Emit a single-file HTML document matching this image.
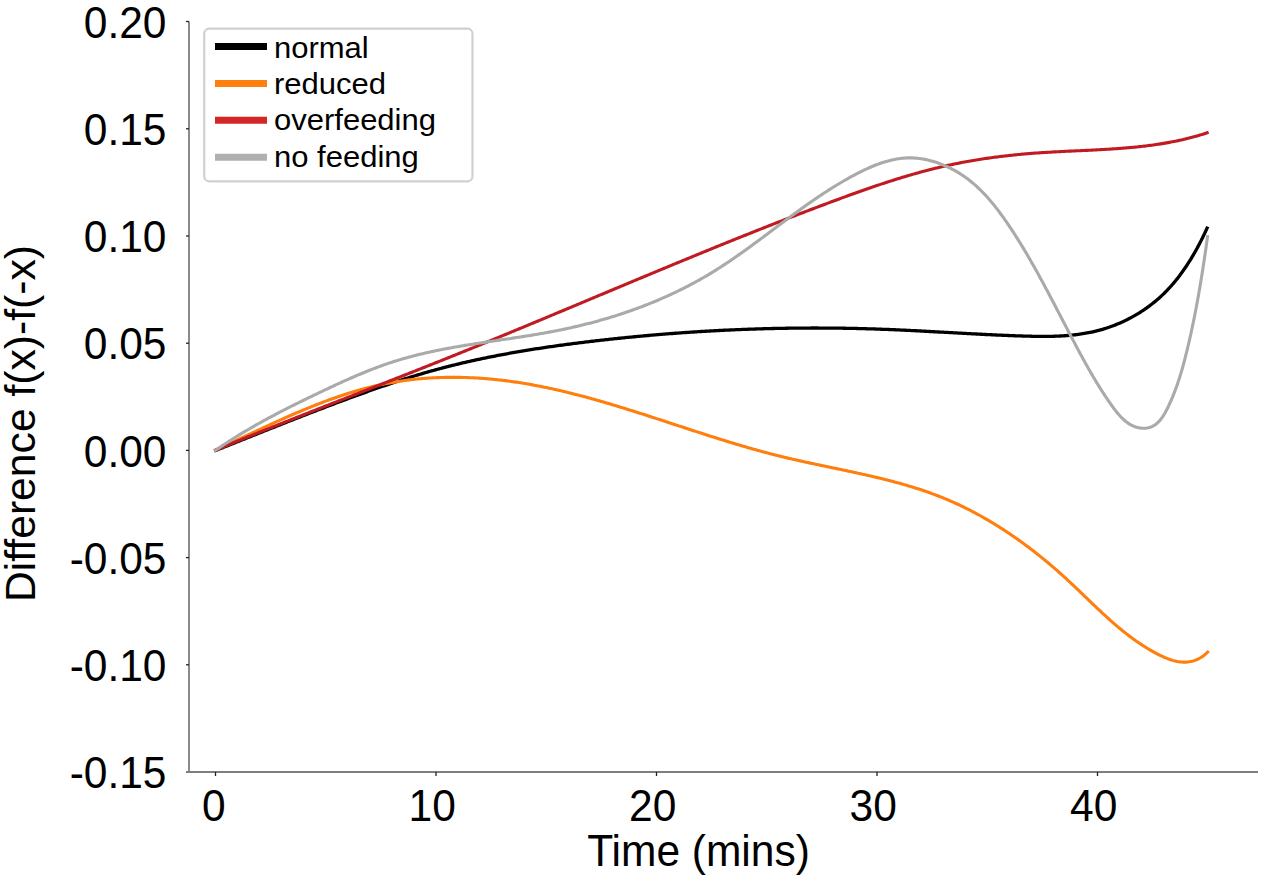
<!DOCTYPE html>
<html><head><meta charset="utf-8"><style>
html,body{margin:0;padding:0;background:#fff;}
svg{display:block;}
.t{font-family:"Liberation Sans",sans-serif;font-size:42.5px;fill:#000;}
.l{font-family:"Liberation Sans",sans-serif;font-size:31px;fill:#000;}
</style></head><body>
<svg width="1262" height="878" viewBox="0 0 1262 878">
<line x1="189" y1="21.5" x2="189" y2="772" stroke="#7e7e7e" stroke-width="1.8"/>
<line x1="186" y1="772" x2="1258" y2="772" stroke="#7e7e7e" stroke-width="1.8"/>
<text transform="translate(166.5,788.2) scale(1,1.05)" text-anchor="end" class="t">-0.15</text>
<line x1="186" y1="664.8" x2="189" y2="664.8" stroke="#222" stroke-width="1.3"/>
<text transform="translate(166.5,681.0) scale(1,1.05)" text-anchor="end" class="t">-0.10</text>
<line x1="186" y1="557.6" x2="189" y2="557.6" stroke="#222" stroke-width="1.3"/>
<text transform="translate(166.5,573.8) scale(1,1.05)" text-anchor="end" class="t">-0.05</text>
<line x1="186" y1="450.4" x2="189" y2="450.4" stroke="#222" stroke-width="1.3"/>
<text transform="translate(166.5,466.6) scale(1,1.05)" text-anchor="end" class="t">0.00</text>
<line x1="186" y1="343.2" x2="189" y2="343.2" stroke="#222" stroke-width="1.3"/>
<text transform="translate(166.5,359.4) scale(1,1.05)" text-anchor="end" class="t">0.05</text>
<line x1="186" y1="236.0" x2="189" y2="236.0" stroke="#222" stroke-width="1.3"/>
<text transform="translate(166.5,252.2) scale(1,1.05)" text-anchor="end" class="t">0.10</text>
<line x1="186" y1="128.8" x2="189" y2="128.8" stroke="#222" stroke-width="1.3"/>
<text transform="translate(166.5,145.0) scale(1,1.05)" text-anchor="end" class="t">0.15</text>
<line x1="186" y1="21.5" x2="189" y2="21.5" stroke="#222" stroke-width="1.3"/>
<text transform="translate(166.5,37.7) scale(1,1.05)" text-anchor="end" class="t">0.20</text>
<line x1="215.5" y1="772" x2="215.5" y2="776" stroke="#222" stroke-width="1.3"/>
<text transform="translate(213.8,820.9) scale(1,1.05)" text-anchor="middle" class="t">0</text>
<line x1="436.0" y1="772" x2="436.0" y2="776" stroke="#222" stroke-width="1.3"/>
<text transform="translate(432.2,820.9) scale(1,1.05)" text-anchor="middle" class="t">10</text>
<line x1="656.5" y1="772" x2="656.5" y2="776" stroke="#222" stroke-width="1.3"/>
<text transform="translate(652.7,820.9) scale(1,1.05)" text-anchor="middle" class="t">20</text>
<line x1="877.0" y1="772" x2="877.0" y2="776" stroke="#222" stroke-width="1.3"/>
<text transform="translate(873.2,820.9) scale(1,1.05)" text-anchor="middle" class="t">30</text>
<line x1="1097.5" y1="772" x2="1097.5" y2="776" stroke="#222" stroke-width="1.3"/>
<text transform="translate(1093.7,820.9) scale(1,1.05)" text-anchor="middle" class="t">40</text>
<text transform="translate(698.5,865.5) scale(1,1.05)" text-anchor="middle" class="t">Time (mins)</text>
<text transform="translate(34.7,423.5) rotate(-90) scale(1.004,1.01)" text-anchor="middle" class="t">Difference f(x)-f(-x)</text>
<path d="M214.29,450.98 L215.71,450.42 L217.12,449.86 L218.54,449.30 L219.95,448.73 L221.36,448.17 L222.78,447.61 L224.19,447.05 L225.60,446.49 L227.01,445.92 L228.42,445.36 L229.83,444.80 L231.24,444.24 L232.65,443.67 L234.06,443.11 L235.47,442.55 L236.88,441.99 L238.29,441.42 L239.70,440.86 L241.11,440.30 L242.52,439.74 L243.93,439.17 L245.33,438.61 L246.74,438.05 L248.15,437.49 L249.56,436.92 L250.97,436.36 L252.37,435.80 L253.78,435.24 L255.19,434.68 L256.59,434.12 L258.00,433.55 L259.41,432.99 L260.81,432.43 L262.22,431.87 L263.63,431.31 L265.03,430.75 L266.44,430.19 L267.85,429.63 L269.25,429.07 L270.66,428.51 L272.06,427.95 L273.47,427.39 L274.88,426.84 L276.28,426.28 L277.69,425.72 L279.10,425.16 L280.50,424.61 L281.91,424.05 L283.32,423.49 L284.72,422.94 L286.13,422.38 L287.54,421.83 L288.94,421.27 L290.35,420.72 L291.76,420.16 L293.16,419.61 L294.57,419.06 L295.98,418.51 L297.39,417.96 L298.80,417.40 L300.20,416.85 L301.61,416.30 L303.02,415.75 L304.43,415.21 L305.84,414.66 L307.25,414.11 L308.66,413.56 L310.07,413.02 L311.48,412.47 L312.89,411.93 L314.30,411.38 L315.71,410.84 L317.12,410.29 L318.53,409.75 L319.94,409.21 L321.36,408.67 L322.77,408.13 L324.18,407.59 L325.60,407.05 L327.01,406.51 L328.42,405.98 L329.84,405.44 L331.25,404.91 L332.67,404.37 L334.09,403.84 L335.50,403.31 L336.92,402.77 L338.34,402.24 L339.75,401.71 L341.17,401.18 L342.59,400.65 L344.01,400.13 L345.43,399.60 L346.85,399.08 L348.27,398.55 L349.69,398.03 L351.11,397.51 L352.54,396.98 L353.96,396.46 L355.38,395.94 L356.81,395.43 L358.23,394.91 L359.66,394.39 L361.08,393.88 L362.51,393.36 L363.94,392.85 L365.37,392.34 L366.79,391.83 L368.22,391.32 L369.65,390.81 L371.08,390.31 L372.52,389.80 L373.95,389.30 L375.38,388.79 L376.81,388.29 L378.25,387.80 L379.68,387.30 L381.12,386.80 L382.55,386.31 L383.99,385.82 L385.43,385.33 L386.86,384.84 L388.30,384.35 L389.74,383.87 L391.18,383.39 L392.62,382.91 L394.06,382.43 L395.50,381.95 L396.94,381.48 L398.39,381.01 L399.83,380.54 L401.27,380.07 L402.72,379.61 L404.17,379.14 L405.61,378.68 L407.06,378.23 L408.51,377.77 L409.95,377.32 L411.40,376.87 L412.85,376.42 L414.30,375.98 L415.75,375.54 L417.20,375.10 L418.66,374.66 L420.11,374.23 L421.56,373.80 L423.02,373.37 L424.47,372.95 L425.93,372.53 L427.38,372.11 L428.84,371.69 L430.30,371.28 L431.76,370.87 L433.22,370.47 L434.68,370.06 L436.14,369.66 L437.60,369.27 L439.06,368.88 L440.52,368.49 L441.98,368.10 L443.45,367.71 L444.91,367.33 L446.38,366.95 L447.84,366.58 L449.31,366.21 L450.78,365.84 L452.24,365.47 L453.71,365.11 L455.18,364.75 L456.65,364.39 L458.12,364.03 L459.59,363.68 L461.06,363.33 L462.53,362.98 L464.00,362.64 L465.48,362.30 L466.95,361.96 L468.42,361.62 L469.90,361.29 L471.37,360.96 L472.85,360.63 L474.32,360.31 L475.80,359.98 L477.28,359.66 L478.76,359.34 L480.23,359.03 L481.71,358.72 L483.19,358.41 L484.67,358.10 L486.15,357.79 L487.63,357.49 L489.12,357.19 L490.60,356.89 L492.08,356.60 L493.56,356.30 L495.05,356.01 L496.53,355.72 L498.01,355.44 L499.50,355.15 L500.98,354.87 L502.47,354.59 L503.96,354.31 L505.44,354.04 L506.93,353.77 L508.42,353.50 L509.91,353.23 L511.39,352.96 L512.88,352.70 L514.37,352.44 L515.86,352.18 L517.35,351.92 L518.84,351.66 L520.33,351.41 L521.82,351.16 L523.32,350.91 L524.81,350.66 L526.30,350.41 L527.79,350.17 L529.29,349.93 L530.78,349.69 L532.28,349.45 L533.77,349.21 L535.26,348.98 L536.76,348.74 L538.26,348.51 L539.75,348.28 L541.25,348.06 L542.74,347.83 L544.24,347.61 L545.74,347.39 L547.24,347.17 L548.73,346.95 L550.23,346.73 L551.73,346.51 L553.23,346.30 L554.73,346.09 L556.23,345.88 L557.73,345.67 L559.23,345.46 L560.73,345.26 L562.23,345.05 L563.73,344.85 L565.23,344.65 L566.73,344.45 L568.24,344.25 L569.74,344.05 L571.24,343.86 L572.74,343.66 L574.25,343.47 L575.75,343.28 L577.25,343.09 L578.76,342.90 L580.26,342.71 L581.76,342.52 L583.27,342.34 L584.77,342.16 L586.28,341.97 L587.78,341.79 L589.29,341.61 L590.79,341.43 L592.30,341.25 L593.80,341.08 L595.31,340.90 L596.82,340.73 L598.32,340.55 L599.83,340.38 L601.33,340.21 L602.84,340.04 L604.35,339.87 L605.86,339.70 L607.36,339.54 L608.87,339.37 L610.38,339.21 L611.89,339.05 L613.39,338.88 L614.90,338.72 L616.41,338.56 L617.92,338.41 L619.43,338.25 L620.94,338.09 L622.45,337.94 L623.96,337.79 L625.47,337.63 L626.98,337.48 L628.49,337.33 L629.99,337.18 L631.51,337.04 L633.02,336.89 L634.53,336.74 L636.04,336.60 L637.55,336.46 L639.06,336.31 L640.57,336.17 L642.08,336.03 L643.59,335.90 L645.10,335.76 L646.61,335.62 L648.13,335.49 L649.64,335.36 L651.15,335.22 L652.66,335.09 L654.17,334.96 L655.69,334.83 L657.20,334.71 L658.71,334.58 L660.22,334.45 L661.74,334.33 L663.25,334.21 L664.76,334.08 L666.27,333.96 L667.79,333.85 L669.30,333.73 L670.81,333.61 L672.33,333.49 L673.84,333.38 L675.35,333.27 L676.87,333.15 L678.38,333.04 L679.90,332.93 L681.41,332.82 L682.92,332.72 L684.44,332.61 L685.95,332.51 L687.47,332.40 L688.98,332.30 L690.50,332.20 L692.01,332.10 L693.53,332.00 L695.04,331.90 L696.56,331.80 L698.07,331.71 L699.59,331.62 L701.10,331.52 L702.62,331.43 L704.13,331.34 L705.65,331.25 L707.16,331.16 L708.68,331.08 L710.19,330.99 L711.71,330.91 L713.22,330.82 L714.74,330.74 L716.25,330.66 L717.77,330.58 L719.29,330.50 L720.80,330.42 L722.32,330.35 L723.83,330.27 L725.35,330.20 L726.86,330.13 L728.38,330.05 L729.90,329.98 L731.41,329.92 L732.93,329.85 L734.44,329.78 L735.96,329.72 L737.48,329.65 L738.99,329.59 L740.51,329.53 L742.03,329.47 L743.54,329.41 L745.06,329.35 L746.57,329.29 L748.09,329.24 L749.61,329.19 L751.12,329.13 L752.64,329.08 L754.16,329.03 L755.67,328.98 L757.19,328.93 L758.70,328.89 L760.22,328.84 L761.74,328.80 L763.25,328.75 L764.77,328.71 L766.29,328.67 L767.80,328.63 L769.32,328.59 L770.83,328.56 L772.35,328.52 L773.87,328.49 L775.38,328.45 L776.90,328.42 L778.41,328.39 L779.93,328.36 L781.45,328.33 L782.96,328.30 L784.48,328.28 L785.99,328.25 L787.51,328.23 L789.03,328.21 L790.54,328.19 L792.06,328.17 L793.57,328.15 L795.09,328.13 L796.60,328.12 L798.12,328.10 L799.64,328.09 L801.15,328.08 L802.67,328.06 L804.18,328.05 L805.70,328.05 L807.21,328.04 L808.73,328.03 L810.24,328.03 L811.76,328.02 L813.27,328.02 L814.79,328.02 L816.30,328.02 L817.82,328.02 L819.33,328.03 L820.85,328.03 L822.36,328.04 L823.87,328.04 L825.39,328.05 L826.90,328.06 L828.42,328.07 L829.93,328.08 L831.44,328.09 L832.96,328.11 L834.47,328.12 L835.99,328.14 L837.50,328.16 L839.01,328.18 L840.53,328.20 L842.04,328.22 L843.55,328.24 L845.07,328.27 L846.58,328.29 L848.09,328.32 L849.60,328.35 L851.12,328.38 L852.63,328.41 L854.14,328.44 L855.65,328.47 L857.17,328.50 L858.68,328.54 L860.19,328.58 L861.70,328.62 L863.21,328.65 L864.72,328.70 L866.24,328.74 L867.75,328.78 L869.26,328.83 L870.77,328.87 L872.28,328.92 L873.79,328.97 L875.30,329.02 L876.81,329.07 L878.32,329.12 L879.83,329.17 L881.34,329.23 L882.85,329.28 L884.36,329.34 L885.87,329.40 L887.38,329.46 L888.89,329.52 L890.40,329.58 L891.91,329.64 L893.42,329.71 L894.93,329.77 L896.43,329.84 L897.94,329.90 L899.45,329.97 L900.96,330.04 L902.47,330.11 L903.98,330.18 L905.49,330.25 L906.99,330.33 L908.50,330.40 L910.01,330.47 L911.52,330.55 L913.03,330.62 L914.54,330.70 L916.04,330.77 L917.55,330.85 L919.06,330.93 L920.57,331.01 L922.08,331.08 L923.59,331.16 L925.10,331.24 L926.60,331.32 L928.11,331.40 L929.62,331.48 L931.13,331.57 L932.64,331.65 L934.15,331.73 L935.66,331.81 L937.17,331.89 L938.68,331.98 L940.19,332.06 L941.70,332.14 L943.21,332.22 L944.72,332.31 L946.23,332.39 L947.74,332.47 L949.25,332.56 L950.76,332.64 L952.27,332.72 L953.78,332.81 L955.29,332.89 L956.80,332.97 L958.31,333.05 L959.83,333.14 L961.34,333.22 L962.85,333.30 L964.36,333.38 L965.88,333.46 L967.39,333.54 L968.90,333.63 L970.42,333.71 L971.93,333.79 L973.44,333.86 L974.96,333.94 L976.47,334.02 L977.99,334.10 L979.50,334.18 L981.02,334.25 L982.54,334.33 L984.05,334.41 L985.57,334.48 L987.09,334.56 L988.60,334.63 L990.12,334.70 L991.64,334.77 L993.16,334.84 L994.68,334.92 L996.20,334.98 L997.72,335.05 L999.24,335.12 L1000.76,335.19 L1002.28,335.25 L1003.80,335.32 L1005.32,335.38 L1006.85,335.44 L1008.37,335.51 L1009.89,335.57 L1011.42,335.62 L1012.94,335.68 L1014.46,335.74 L1015.99,335.80 L1017.52,335.85 L1019.04,335.90 L1020.57,335.95 L1022.10,336.00 L1023.62,336.05 L1025.15,336.10 L1026.68,336.14 L1028.21,336.19 L1029.74,336.22 L1031.27,336.26 L1032.79,336.29 L1034.32,336.32 L1035.85,336.35 L1037.38,336.37 L1038.91,336.38 L1040.43,336.40 L1041.96,336.40 L1043.49,336.40 L1045.01,336.40 L1046.54,336.39 L1048.06,336.37 L1049.58,336.35 L1051.11,336.32 L1052.63,336.29 L1054.15,336.25 L1055.67,336.20 L1057.19,336.14 L1058.70,336.07 L1060.22,336.00 L1061.73,335.92 L1063.24,335.83 L1064.75,335.73 L1066.26,335.62 L1067.77,335.50 L1069.28,335.37 L1070.78,335.23 L1072.28,335.09 L1073.78,334.93 L1075.28,334.76 L1076.77,334.58 L1078.27,334.38 L1079.76,334.18 L1081.25,333.96 L1082.73,333.73 L1084.22,333.49 L1085.70,333.24 L1087.17,332.97 L1088.65,332.69 L1090.12,332.40 L1091.59,332.09 L1093.06,331.77 L1094.52,331.44 L1095.98,331.09 L1097.44,330.72 L1098.89,330.34 L1100.34,329.95 L1101.79,329.54 L1103.23,329.11 L1104.67,328.68 L1106.11,328.22 L1107.54,327.75 L1108.96,327.27 L1110.39,326.77 L1111.80,326.26 L1113.21,325.74 L1114.62,325.20 L1116.02,324.64 L1117.42,324.07 L1118.81,323.49 L1120.20,322.89 L1121.58,322.28 L1122.95,321.66 L1124.32,321.02 L1125.68,320.37 L1127.03,319.70 L1128.38,319.02 L1129.72,318.33 L1131.06,317.62 L1132.38,316.90 L1133.70,316.16 L1135.01,315.41 L1136.32,314.65 L1137.62,313.88 L1138.91,313.09 L1140.19,312.29 L1141.46,311.47 L1142.73,310.65 L1143.98,309.80 L1145.23,308.95 L1146.47,308.08 L1147.70,307.20 L1148.92,306.31 L1150.13,305.41 L1151.34,304.49 L1152.53,303.56 L1153.71,302.61 L1154.89,301.66 L1156.05,300.69 L1157.20,299.71 L1158.35,298.71 L1159.48,297.71 L1160.60,296.69 L1161.71,295.66 L1162.81,294.62 L1163.90,293.56 L1164.98,292.50 L1166.05,291.42 L1167.10,290.33 L1168.15,289.23 L1169.18,288.12 L1170.21,286.99 L1171.22,285.86 L1172.22,284.72 L1173.22,283.57 L1174.20,282.40 L1175.17,281.23 L1176.13,280.05 L1177.08,278.86 L1178.03,277.66 L1178.96,276.45 L1179.88,275.24 L1180.79,274.01 L1181.70,272.78 L1182.59,271.54 L1183.47,270.30 L1184.35,269.04 L1185.21,267.78 L1186.07,266.51 L1186.91,265.24 L1187.75,263.96 L1188.58,262.67 L1189.40,261.38 L1190.21,260.08 L1191.01,258.78 L1191.80,257.47 L1192.59,256.16 L1193.36,254.84 L1194.13,253.52 L1194.89,252.20 L1195.64,250.87 L1196.38,249.54 L1197.11,248.20 L1197.84,246.86 L1198.55,245.52 L1199.26,244.17 L1199.96,242.83 L1200.66,241.48 L1201.34,240.13 L1202.02,238.77 L1202.69,237.42 L1203.35,236.06 L1204.01,234.71 L1204.65,233.35 L1205.29,231.99 L1205.93,230.63 L1206.55,229.27 L1207.17,227.91 L1207.78,226.56" fill="none" stroke="#000000" stroke-width="3.3" stroke-linejoin="round"/>
<path d="M214.22,450.54 L215.61,449.92 L216.99,449.29 L218.38,448.66 L219.77,448.03 L221.15,447.39 L222.54,446.76 L223.93,446.12 L225.32,445.48 L226.71,444.84 L228.10,444.20 L229.49,443.55 L230.88,442.91 L232.27,442.26 L233.66,441.61 L235.05,440.97 L236.44,440.32 L237.84,439.67 L239.23,439.02 L240.63,438.36 L242.02,437.71 L243.42,437.06 L244.81,436.41 L246.21,435.75 L247.61,435.10 L249.00,434.45 L250.40,433.79 L251.80,433.14 L253.20,432.49 L254.60,431.83 L256.00,431.18 L257.41,430.52 L258.81,429.87 L260.21,429.22 L261.62,428.57 L263.02,427.92 L264.43,427.27 L265.83,426.62 L267.24,425.97 L268.65,425.32 L270.06,424.67 L271.47,424.03 L272.88,423.38 L274.29,422.74 L275.70,422.10 L277.12,421.46 L278.53,420.82 L279.95,420.18 L281.36,419.54 L282.78,418.91 L284.20,418.28 L285.62,417.65 L287.04,417.02 L288.46,416.39 L289.88,415.77 L291.30,415.15 L292.73,414.53 L294.15,413.91 L295.58,413.30 L297.01,412.69 L298.43,412.08 L299.86,411.47 L301.29,410.87 L302.72,410.27 L304.16,409.67 L305.59,409.08 L307.03,408.48 L308.46,407.90 L309.90,407.31 L311.34,406.73 L312.78,406.15 L314.22,405.58 L315.66,405.01 L317.10,404.44 L318.55,403.88 L319.99,403.32 L321.44,402.76 L322.89,402.21 L324.34,401.66 L325.79,401.12 L327.24,400.58 L328.69,400.05 L330.15,399.52 L331.60,399.00 L333.06,398.47 L334.52,397.96 L335.98,397.45 L337.44,396.94 L338.90,396.44 L340.36,395.94 L341.83,395.45 L343.30,394.97 L344.77,394.49 L346.24,394.01 L347.71,393.54 L349.18,393.08 L350.65,392.62 L352.13,392.17 L353.61,391.72 L355.08,391.28 L356.57,390.84 L358.05,390.42 L359.53,389.99 L361.02,389.58 L362.50,389.17 L363.99,388.76 L365.48,388.36 L366.97,387.97 L368.46,387.59 L369.96,387.21 L371.45,386.84 L372.95,386.47 L374.45,386.12 L375.95,385.77 L377.46,385.42 L378.96,385.09 L380.47,384.76 L381.97,384.44 L383.48,384.12 L385.00,383.82 L386.51,383.52 L388.02,383.22 L389.54,382.94 L391.06,382.66 L392.58,382.39 L394.10,382.13 L395.62,381.88 L397.15,381.63 L398.67,381.39 L400.20,381.16 L401.73,380.93 L403.26,380.71 L404.79,380.50 L406.32,380.30 L407.86,380.10 L409.39,379.91 L410.93,379.73 L412.46,379.55 L414.00,379.38 L415.54,379.22 L417.08,379.06 L418.62,378.91 L420.16,378.77 L421.70,378.64 L423.25,378.51 L424.79,378.39 L426.34,378.27 L427.88,378.17 L429.43,378.07 L430.97,377.97 L432.52,377.88 L434.07,377.80 L435.62,377.73 L437.17,377.66 L438.72,377.60 L440.27,377.54 L441.82,377.49 L443.37,377.45 L444.92,377.41 L446.47,377.38 L448.02,377.36 L449.57,377.34 L451.12,377.33 L452.67,377.33 L454.22,377.33 L455.77,377.34 L457.33,377.35 L458.88,377.37 L460.43,377.40 L461.98,377.43 L463.53,377.47 L465.08,377.51 L466.63,377.56 L468.18,377.62 L469.73,377.68 L471.28,377.74 L472.83,377.82 L474.38,377.90 L475.92,377.98 L477.47,378.07 L479.02,378.17 L480.56,378.27 L482.11,378.38 L483.65,378.49 L485.20,378.61 L486.74,378.74 L488.28,378.87 L489.83,379.00 L491.37,379.14 L492.91,379.29 L494.44,379.44 L495.98,379.60 L497.52,379.76 L499.05,379.93 L500.59,380.10 L502.12,380.28 L503.65,380.46 L505.19,380.65 L506.72,380.85 L508.24,381.05 L509.77,381.25 L511.30,381.46 L512.82,381.67 L514.35,381.89 L515.87,382.12 L517.39,382.34 L518.92,382.58 L520.44,382.81 L521.96,383.06 L523.47,383.30 L524.99,383.56 L526.51,383.81 L528.02,384.07 L529.54,384.34 L531.05,384.61 L532.56,384.88 L534.08,385.16 L535.59,385.44 L537.10,385.73 L538.61,386.02 L540.11,386.32 L541.62,386.62 L543.13,386.92 L544.63,387.23 L546.14,387.54 L547.64,387.85 L549.14,388.17 L550.65,388.50 L552.15,388.82 L553.65,389.15 L555.15,389.49 L556.65,389.83 L558.15,390.17 L559.64,390.51 L561.14,390.86 L562.64,391.21 L564.13,391.57 L565.63,391.93 L567.12,392.29 L568.62,392.65 L570.11,393.02 L571.60,393.39 L573.09,393.77 L574.58,394.15 L576.07,394.53 L577.56,394.91 L579.05,395.30 L580.54,395.69 L582.03,396.08 L583.51,396.48 L585.00,396.87 L586.49,397.27 L587.97,397.68 L589.46,398.08 L590.94,398.49 L592.43,398.91 L593.91,399.32 L595.39,399.74 L596.88,400.16 L598.36,400.58 L599.84,401.00 L601.32,401.43 L602.80,401.85 L604.28,402.29 L605.76,402.72 L607.24,403.15 L608.72,403.59 L610.20,404.03 L611.68,404.47 L613.16,404.91 L614.63,405.36 L616.11,405.80 L617.59,406.25 L619.07,406.70 L620.54,407.15 L622.02,407.61 L623.49,408.06 L624.97,408.52 L626.45,408.98 L627.92,409.44 L629.40,409.90 L630.87,410.36 L632.34,410.82 L633.82,411.29 L635.29,411.75 L636.77,412.22 L638.24,412.69 L639.71,413.16 L641.19,413.63 L642.66,414.10 L644.13,414.58 L645.61,415.05 L647.08,415.52 L648.55,416.00 L650.03,416.48 L651.50,416.95 L652.97,417.43 L654.44,417.91 L655.92,418.39 L657.39,418.87 L658.86,419.35 L660.33,419.83 L661.80,420.31 L663.28,420.79 L664.75,421.28 L666.22,421.76 L667.69,422.24 L669.17,422.72 L670.64,423.21 L672.11,423.69 L673.58,424.17 L675.06,424.66 L676.53,425.14 L678.00,425.62 L679.48,426.11 L680.95,426.59 L682.42,427.07 L683.90,427.56 L685.37,428.04 L686.84,428.52 L688.32,429.00 L689.79,429.48 L691.27,429.96 L692.74,430.44 L694.22,430.92 L695.69,431.40 L697.17,431.88 L698.64,432.36 L700.12,432.84 L701.59,433.31 L703.07,433.79 L704.55,434.26 L706.03,434.74 L707.50,435.21 L708.98,435.68 L710.46,436.15 L711.94,436.62 L713.42,437.09 L714.90,437.56 L716.38,438.03 L717.86,438.49 L719.34,438.96 L720.82,439.42 L722.30,439.88 L723.78,440.34 L725.26,440.80 L726.74,441.25 L728.23,441.71 L729.71,442.16 L731.20,442.62 L732.68,443.07 L734.17,443.51 L735.65,443.96 L737.14,444.41 L738.62,444.85 L740.11,445.29 L741.60,445.73 L743.09,446.16 L744.58,446.60 L746.07,447.03 L747.56,447.46 L749.05,447.89 L750.54,448.32 L752.03,448.74 L753.53,449.16 L755.02,449.58 L756.51,450.00 L758.01,450.41 L759.50,450.83 L761.00,451.23 L762.50,451.64 L763.99,452.05 L765.49,452.45 L766.99,452.84 L768.49,453.24 L769.99,453.63 L771.50,454.02 L773.00,454.41 L774.50,454.79 L776.00,455.18 L777.51,455.55 L779.02,455.93 L780.52,456.30 L782.03,456.67 L783.54,457.04 L785.05,457.40 L786.56,457.76 L788.07,458.12 L789.58,458.47 L791.09,458.82 L792.60,459.17 L794.12,459.52 L795.63,459.86 L797.14,460.21 L798.66,460.55 L800.17,460.88 L801.69,461.22 L803.20,461.56 L804.72,461.89 L806.24,462.22 L807.76,462.55 L809.27,462.88 L810.79,463.20 L812.31,463.53 L813.83,463.85 L815.34,464.18 L816.86,464.50 L818.38,464.82 L819.90,465.14 L821.42,465.46 L822.94,465.78 L824.46,466.10 L825.98,466.42 L827.49,466.74 L829.01,467.05 L830.53,467.37 L832.05,467.69 L833.57,468.01 L835.09,468.32 L836.60,468.64 L838.12,468.96 L839.64,469.28 L841.16,469.60 L842.67,469.91 L844.19,470.23 L845.70,470.56 L847.22,470.88 L848.73,471.20 L850.25,471.52 L851.76,471.85 L853.28,472.17 L854.79,472.50 L856.30,472.83 L857.81,473.16 L859.32,473.49 L860.83,473.82 L862.34,474.16 L863.85,474.50 L865.36,474.83 L866.87,475.17 L868.37,475.52 L869.88,475.86 L871.38,476.21 L872.88,476.56 L874.39,476.91 L875.89,477.27 L877.39,477.63 L878.89,477.99 L880.38,478.35 L881.88,478.71 L883.38,479.08 L884.87,479.46 L886.36,479.83 L887.86,480.21 L889.35,480.59 L890.84,480.98 L892.32,481.37 L893.81,481.76 L895.30,482.16 L896.78,482.56 L898.26,482.97 L899.74,483.37 L901.22,483.79 L902.70,484.20 L904.18,484.63 L905.65,485.05 L907.12,485.48 L908.60,485.92 L910.07,486.36 L911.53,486.80 L913.00,487.25 L914.46,487.71 L915.93,488.17 L917.39,488.63 L918.85,489.10 L920.30,489.58 L921.76,490.06 L923.21,490.55 L924.66,491.04 L926.11,491.54 L927.56,492.04 L929.00,492.55 L930.45,493.06 L931.89,493.59 L933.32,494.11 L934.76,494.65 L936.19,495.19 L937.63,495.74 L939.05,496.29 L940.48,496.85 L941.91,497.42 L943.33,497.99 L944.75,498.57 L946.17,499.16 L947.58,499.75 L948.99,500.36 L950.40,500.96 L951.81,501.58 L953.22,502.20 L954.62,502.83 L956.02,503.47 L957.42,504.11 L958.81,504.76 L960.20,505.41 L961.59,506.08 L962.98,506.75 L964.36,507.42 L965.75,508.10 L967.13,508.79 L968.50,509.49 L969.88,510.19 L971.25,510.89 L972.62,511.61 L973.98,512.33 L975.35,513.05 L976.71,513.78 L978.07,514.52 L979.42,515.26 L980.77,516.01 L982.12,516.77 L983.47,517.53 L984.82,518.30 L986.16,519.07 L987.50,519.85 L988.84,520.63 L990.17,521.42 L991.50,522.22 L992.83,523.02 L994.15,523.82 L995.48,524.64 L996.80,525.45 L998.11,526.28 L999.43,527.10 L1000.74,527.94 L1002.05,528.78 L1003.35,529.62 L1004.66,530.47 L1005.96,531.32 L1007.25,532.18 L1008.55,533.04 L1009.84,533.91 L1011.13,534.79 L1012.41,535.67 L1013.69,536.55 L1014.97,537.44 L1016.25,538.33 L1017.52,539.23 L1018.79,540.13 L1020.06,541.04 L1021.33,541.95 L1022.59,542.86 L1023.85,543.78 L1025.10,544.71 L1026.36,545.64 L1027.60,546.57 L1028.85,547.51 L1030.09,548.45 L1031.33,549.40 L1032.57,550.35 L1033.81,551.30 L1035.04,552.26 L1036.27,553.22 L1037.49,554.19 L1038.71,555.16 L1039.93,556.14 L1041.15,557.12 L1042.36,558.10 L1043.57,559.08 L1044.77,560.07 L1045.98,561.07 L1047.18,562.06 L1048.37,563.06 L1049.57,564.07 L1050.76,565.08 L1051.94,566.09 L1053.13,567.10 L1054.31,568.12 L1055.48,569.14 L1056.66,570.16 L1057.83,571.19 L1058.99,572.22 L1060.16,573.26 L1061.32,574.29 L1062.48,575.33 L1063.63,576.38 L1064.78,577.42 L1065.93,578.47 L1067.07,579.52 L1068.21,580.58 L1069.35,581.64 L1070.48,582.69 L1071.62,583.76 L1072.75,584.82 L1073.87,585.88 L1075.00,586.95 L1076.12,588.02 L1077.25,589.09 L1078.37,590.16 L1079.48,591.23 L1080.60,592.30 L1081.72,593.37 L1082.83,594.45 L1083.95,595.52 L1085.06,596.59 L1086.17,597.66 L1087.29,598.74 L1088.40,599.81 L1089.51,600.88 L1090.63,601.95 L1091.74,603.01 L1092.85,604.08 L1093.97,605.15 L1095.09,606.21 L1096.20,607.27 L1097.32,608.33 L1098.44,609.39 L1099.56,610.44 L1100.68,611.49 L1101.81,612.54 L1102.94,613.59 L1104.07,614.63 L1105.20,615.67 L1106.33,616.71 L1107.47,617.74 L1108.61,618.77 L1109.75,619.79 L1110.90,620.81 L1112.05,621.83 L1113.20,622.84 L1114.36,623.85 L1115.52,624.85 L1116.69,625.84 L1117.86,626.83 L1119.03,627.82 L1120.21,628.80 L1121.39,629.77 L1122.58,630.74 L1123.77,631.70 L1124.97,632.65 L1126.18,633.60 L1127.39,634.54 L1128.60,635.47 L1129.83,636.40 L1131.05,637.32 L1132.29,638.23 L1133.53,639.13 L1134.78,640.03 L1136.03,640.91 L1137.29,641.79 L1138.56,642.66 L1139.84,643.53 L1141.12,644.38 L1142.41,645.22 L1143.71,646.06 L1145.02,646.88 L1146.33,647.70 L1147.66,648.50 L1148.99,649.30 L1150.33,650.09 L1151.68,650.86 L1153.04,651.63 L1154.41,652.38 L1155.78,653.12 L1157.17,653.85 L1158.57,654.57 L1159.97,655.27 L1161.38,655.95 L1162.80,656.61 L1164.22,657.24 L1165.65,657.85 L1167.09,658.42 L1168.53,658.97 L1169.98,659.48 L1171.43,659.95 L1172.88,660.38 L1174.34,660.77 L1175.79,661.12 L1177.25,661.42 L1178.72,661.67 L1180.18,661.87 L1181.64,662.01 L1183.10,662.10 L1184.56,662.12 L1186.02,662.09 L1187.48,661.99 L1188.94,661.82 L1190.39,661.58 L1191.84,661.27 L1193.28,660.89 L1194.73,660.43 L1196.16,659.89 L1197.59,659.26 L1199.01,658.55 L1200.43,657.76 L1201.84,656.87 L1203.24,655.90 L1204.64,654.82 L1206.02,653.66 L1207.40,652.39 L1208.76,651.02" fill="none" stroke="#ff7f0e" stroke-width="3.1" stroke-linejoin="round"/>
<path d="M214.18,450.67 L215.57,450.10 L216.96,449.53 L218.35,448.96 L219.74,448.39 L221.12,447.81 L222.51,447.24 L223.90,446.67 L225.29,446.10 L226.68,445.54 L228.07,444.97 L229.46,444.40 L230.85,443.83 L232.24,443.26 L233.63,442.70 L235.02,442.13 L236.42,441.56 L237.81,441.00 L239.20,440.43 L240.59,439.87 L241.98,439.30 L243.37,438.74 L244.77,438.18 L246.16,437.61 L247.55,437.05 L248.95,436.49 L250.34,435.93 L251.73,435.37 L253.13,434.80 L254.52,434.24 L255.91,433.68 L257.31,433.12 L258.70,432.56 L260.10,432.00 L261.49,431.44 L262.89,430.89 L264.28,430.33 L265.68,429.77 L267.07,429.21 L268.47,428.65 L269.87,428.10 L271.26,427.54 L272.66,426.98 L274.05,426.43 L275.45,425.87 L276.85,425.32 L278.24,424.76 L279.64,424.21 L281.04,423.65 L282.44,423.10 L283.83,422.54 L285.23,421.99 L286.63,421.43 L288.03,420.88 L289.42,420.33 L290.82,419.77 L292.22,419.22 L293.62,418.67 L295.02,418.11 L296.42,417.56 L297.81,417.01 L299.21,416.46 L300.61,415.91 L302.01,415.35 L303.41,414.80 L304.81,414.25 L306.21,413.70 L307.61,413.15 L309.01,412.60 L310.41,412.05 L311.81,411.50 L313.21,410.95 L314.61,410.40 L316.01,409.85 L317.41,409.30 L318.81,408.75 L320.21,408.20 L321.61,407.65 L323.01,407.10 L324.41,406.55 L325.81,406.00 L327.21,405.45 L328.61,404.90 L330.01,404.36 L331.41,403.81 L332.81,403.26 L334.21,402.71 L335.61,402.16 L337.01,401.61 L338.41,401.06 L339.81,400.52 L341.22,399.97 L342.62,399.42 L344.02,398.87 L345.42,398.32 L346.82,397.77 L348.22,397.23 L349.62,396.68 L351.02,396.13 L352.42,395.58 L353.83,395.03 L355.23,394.49 L356.63,393.94 L358.03,393.39 L359.43,392.84 L360.83,392.29 L362.23,391.74 L363.63,391.20 L365.04,390.65 L366.44,390.10 L367.84,389.55 L369.24,389.00 L370.64,388.45 L372.04,387.91 L373.44,387.36 L374.84,386.81 L376.24,386.26 L377.65,385.71 L379.05,385.16 L380.45,384.61 L381.85,384.06 L383.25,383.51 L384.65,382.96 L386.05,382.41 L387.45,381.86 L388.85,381.31 L390.25,380.76 L391.65,380.21 L393.05,379.66 L394.46,379.11 L395.86,378.56 L397.26,378.01 L398.66,377.46 L400.06,376.91 L401.46,376.36 L402.86,375.81 L404.26,375.26 L405.66,374.70 L407.06,374.15 L408.46,373.60 L409.86,373.05 L411.26,372.49 L412.66,371.94 L414.06,371.39 L415.45,370.83 L416.85,370.28 L418.25,369.73 L419.65,369.17 L421.05,368.62 L422.45,368.06 L423.85,367.51 L425.25,366.95 L426.65,366.40 L428.04,365.84 L429.44,365.29 L430.84,364.73 L432.24,364.17 L433.64,363.62 L435.03,363.06 L436.43,362.50 L437.83,361.95 L439.23,361.39 L440.62,360.83 L442.02,360.27 L443.42,359.71 L444.81,359.15 L446.21,358.59 L447.61,358.03 L449.00,357.47 L450.40,356.91 L451.80,356.35 L453.19,355.79 L454.59,355.23 L455.98,354.67 L457.38,354.10 L458.77,353.54 L460.17,352.98 L461.56,352.41 L462.96,351.85 L464.35,351.28 L465.75,350.72 L467.14,350.16 L468.54,349.59 L469.93,349.02 L471.32,348.46 L472.72,347.89 L474.11,347.32 L475.50,346.76 L476.90,346.19 L478.29,345.62 L479.68,345.05 L481.08,344.49 L482.47,343.92 L483.86,343.35 L485.25,342.78 L486.65,342.21 L488.04,341.64 L489.43,341.07 L490.82,340.50 L492.21,339.93 L493.60,339.36 L495.00,338.79 L496.39,338.21 L497.78,337.64 L499.17,337.07 L500.56,336.50 L501.95,335.93 L503.34,335.35 L504.73,334.78 L506.12,334.21 L507.51,333.63 L508.90,333.06 L510.29,332.49 L511.68,331.91 L513.07,331.34 L514.46,330.76 L515.85,330.19 L517.24,329.61 L518.63,329.04 L520.02,328.46 L521.41,327.89 L522.80,327.31 L524.19,326.73 L525.58,326.16 L526.97,325.58 L528.36,325.00 L529.75,324.43 L531.14,323.85 L532.53,323.27 L533.91,322.70 L535.30,322.12 L536.69,321.54 L538.08,320.96 L539.47,320.38 L540.86,319.81 L542.25,319.23 L543.63,318.65 L545.02,318.07 L546.41,317.49 L547.80,316.91 L549.19,316.33 L550.57,315.76 L551.96,315.18 L553.35,314.60 L554.74,314.02 L556.13,313.44 L557.51,312.86 L558.90,312.28 L560.29,311.70 L561.68,311.12 L563.06,310.54 L564.45,309.96 L565.84,309.38 L567.23,308.80 L568.61,308.22 L570.00,307.64 L571.39,307.06 L572.78,306.48 L574.16,305.90 L575.55,305.32 L576.94,304.73 L578.33,304.15 L579.71,303.57 L581.10,302.99 L582.49,302.41 L583.87,301.83 L585.26,301.25 L586.65,300.67 L588.04,300.09 L589.42,299.51 L590.81,298.93 L592.20,298.34 L593.58,297.76 L594.97,297.18 L596.36,296.60 L597.75,296.02 L599.13,295.44 L600.52,294.86 L601.91,294.28 L603.29,293.70 L604.68,293.12 L606.07,292.53 L607.46,291.95 L608.84,291.37 L610.23,290.79 L611.62,290.21 L613.01,289.63 L614.39,289.05 L615.78,288.47 L617.17,287.89 L618.55,287.31 L619.94,286.73 L621.33,286.15 L622.72,285.57 L624.10,284.99 L625.49,284.41 L626.88,283.83 L628.27,283.25 L629.66,282.67 L631.04,282.09 L632.43,281.51 L633.82,280.93 L635.21,280.35 L636.59,279.77 L637.98,279.19 L639.37,278.61 L640.76,278.03 L642.15,277.45 L643.54,276.88 L644.92,276.30 L646.31,275.72 L647.70,275.14 L649.09,274.56 L650.48,273.99 L651.87,273.41 L653.25,272.83 L654.64,272.25 L656.03,271.67 L657.42,271.10 L658.81,270.52 L660.20,269.94 L661.59,269.37 L662.98,268.79 L664.37,268.21 L665.76,267.64 L667.15,267.06 L668.54,266.49 L669.92,265.91 L671.31,265.34 L672.70,264.76 L674.09,264.19 L675.48,263.61 L676.87,263.04 L678.26,262.46 L679.66,261.89 L681.05,261.32 L682.44,260.74 L683.83,260.17 L685.22,259.60 L686.61,259.02 L688.00,258.45 L689.39,257.88 L690.78,257.31 L692.17,256.74 L693.56,256.16 L694.96,255.59 L696.35,255.02 L697.74,254.45 L699.13,253.88 L700.52,253.31 L701.92,252.74 L703.31,252.17 L704.70,251.60 L706.09,251.03 L707.49,250.47 L708.88,249.90 L710.27,249.33 L711.67,248.76 L713.06,248.19 L714.45,247.63 L715.85,247.06 L717.24,246.49 L718.63,245.93 L720.03,245.36 L721.42,244.80 L722.82,244.23 L724.21,243.67 L725.61,243.10 L727.00,242.54 L728.40,241.98 L729.79,241.41 L731.19,240.85 L732.58,240.29 L733.98,239.73 L735.37,239.16 L736.77,238.60 L738.17,238.04 L739.56,237.48 L740.96,236.92 L742.36,236.36 L743.75,235.80 L745.15,235.24 L746.55,234.69 L747.94,234.13 L749.34,233.57 L750.74,233.01 L752.14,232.46 L753.54,231.90 L754.93,231.34 L756.33,230.79 L757.73,230.23 L759.13,229.68 L760.53,229.12 L761.93,228.57 L763.33,228.02 L764.73,227.46 L766.13,226.91 L767.53,226.36 L768.93,225.81 L770.33,225.26 L771.73,224.71 L773.13,224.16 L774.53,223.61 L775.94,223.06 L777.34,222.51 L778.74,221.96 L780.14,221.42 L781.54,220.87 L782.95,220.32 L784.35,219.78 L785.75,219.23 L787.16,218.69 L788.56,218.14 L789.96,217.60 L791.37,217.05 L792.77,216.51 L794.18,215.97 L795.58,215.43 L796.99,214.89 L798.39,214.35 L799.80,213.81 L801.20,213.27 L802.61,212.73 L804.01,212.19 L805.42,211.65 L806.83,211.11 L808.23,210.58 L809.64,210.04 L811.05,209.51 L812.46,208.97 L813.87,208.44 L815.27,207.90 L816.68,207.37 L818.09,206.84 L819.50,206.31 L820.91,205.77 L822.32,205.24 L823.73,204.71 L825.14,204.18 L826.55,203.66 L827.96,203.13 L829.37,202.60 L830.78,202.07 L832.20,201.55 L833.61,201.02 L835.02,200.50 L836.43,199.97 L837.85,199.45 L839.26,198.93 L840.67,198.41 L842.09,197.89 L843.50,197.37 L844.92,196.85 L846.33,196.33 L847.75,195.82 L849.16,195.30 L850.58,194.79 L852.00,194.28 L853.41,193.76 L854.83,193.26 L856.25,192.75 L857.67,192.24 L859.09,191.74 L860.50,191.23 L861.92,190.73 L863.34,190.23 L864.77,189.73 L866.19,189.24 L867.61,188.74 L869.03,188.25 L870.45,187.76 L871.88,187.27 L873.30,186.78 L874.73,186.30 L876.15,185.81 L877.58,185.33 L879.00,184.85 L880.43,184.38 L881.86,183.90 L883.28,183.43 L884.71,182.96 L886.14,182.49 L887.57,182.03 L889.00,181.57 L890.43,181.11 L891.87,180.65 L893.30,180.19 L894.73,179.74 L896.16,179.29 L897.60,178.85 L899.03,178.40 L900.47,177.96 L901.91,177.52 L903.34,177.09 L904.78,176.66 L906.22,176.23 L907.66,175.80 L909.10,175.38 L910.54,174.96 L911.98,174.54 L913.43,174.13 L914.87,173.72 L916.31,173.31 L917.76,172.91 L919.20,172.51 L920.65,172.11 L922.10,171.72 L923.55,171.33 L925.00,170.94 L926.45,170.56 L927.90,170.18 L929.35,169.81 L930.80,169.44 L932.25,169.07 L933.71,168.71 L935.16,168.35 L936.62,167.99 L938.08,167.64 L939.54,167.29 L941.00,166.95 L942.46,166.61 L943.92,166.28 L945.38,165.95 L946.84,165.62 L948.31,165.30 L949.77,164.98 L951.24,164.67 L952.70,164.36 L954.17,164.05 L955.64,163.75 L957.11,163.46 L958.58,163.16 L960.05,162.87 L961.52,162.59 L963.00,162.31 L964.47,162.03 L965.95,161.76 L967.42,161.49 L968.90,161.23 L970.38,160.97 L971.85,160.71 L973.33,160.46 L974.81,160.21 L976.29,159.97 L977.77,159.73 L979.26,159.49 L980.74,159.25 L982.22,159.03 L983.71,158.80 L985.19,158.58 L986.68,158.36 L988.17,158.14 L989.65,157.93 L991.14,157.72 L992.63,157.52 L994.12,157.32 L995.61,157.12 L997.10,156.93 L998.59,156.74 L1000.08,156.55 L1001.58,156.37 L1003.07,156.19 L1004.56,156.01 L1006.06,155.84 L1007.55,155.67 L1009.05,155.51 L1010.54,155.34 L1012.04,155.18 L1013.54,155.03 L1015.04,154.87 L1016.53,154.72 L1018.03,154.58 L1019.53,154.43 L1021.03,154.29 L1022.53,154.15 L1024.03,154.02 L1025.53,153.89 L1027.04,153.76 L1028.54,153.63 L1030.04,153.51 L1031.54,153.39 L1033.05,153.28 L1034.55,153.16 L1036.05,153.05 L1037.56,152.95 L1039.06,152.84 L1040.57,152.74 L1042.07,152.64 L1043.58,152.54 L1045.09,152.45 L1046.59,152.35 L1048.10,152.26 L1049.61,152.18 L1051.11,152.09 L1052.62,152.00 L1054.13,151.92 L1055.64,151.84 L1057.14,151.76 L1058.65,151.68 L1060.16,151.61 L1061.67,151.53 L1063.18,151.46 L1064.68,151.38 L1066.19,151.31 L1067.70,151.24 L1069.21,151.17 L1070.72,151.10 L1072.23,151.03 L1073.74,150.96 L1075.24,150.89 L1076.75,150.82 L1078.26,150.75 L1079.77,150.68 L1081.28,150.61 L1082.78,150.54 L1084.29,150.47 L1085.80,150.40 L1087.31,150.33 L1088.81,150.26 L1090.32,150.18 L1091.83,150.11 L1093.34,150.03 L1094.84,149.96 L1096.35,149.88 L1097.85,149.80 L1099.36,149.72 L1100.86,149.64 L1102.37,149.56 L1103.87,149.47 L1105.38,149.39 L1106.88,149.30 L1108.38,149.21 L1109.88,149.11 L1111.39,149.02 L1112.89,148.92 L1114.39,148.82 L1115.89,148.72 L1117.39,148.61 L1118.89,148.50 L1120.39,148.39 L1121.89,148.28 L1123.39,148.16 L1124.88,148.04 L1126.38,147.91 L1127.87,147.79 L1129.37,147.65 L1130.86,147.52 L1132.36,147.38 L1133.85,147.24 L1135.34,147.09 L1136.84,146.94 L1138.33,146.78 L1139.82,146.62 L1141.31,146.46 L1142.79,146.29 L1144.28,146.12 L1145.77,145.94 L1147.25,145.76 L1148.74,145.57 L1150.22,145.38 L1151.71,145.18 L1153.19,144.98 L1154.67,144.77 L1156.15,144.55 L1157.63,144.33 L1159.11,144.11 L1160.59,143.88 L1162.06,143.64 L1163.54,143.40 L1165.01,143.15 L1166.48,142.89 L1167.96,142.63 L1169.43,142.36 L1170.90,142.09 L1172.36,141.81 L1173.83,141.52 L1175.30,141.22 L1176.76,140.92 L1178.22,140.61 L1179.69,140.29 L1181.15,139.97 L1182.61,139.64 L1184.07,139.30 L1185.52,138.95 L1186.98,138.60 L1188.43,138.24 L1189.89,137.87 L1191.34,137.49 L1192.79,137.10 L1194.24,136.71 L1195.68,136.31 L1197.13,135.89 L1198.57,135.47 L1200.02,135.05 L1201.46,134.61 L1202.90,134.16 L1204.34,133.71 L1205.77,133.24 L1207.21,132.77 L1208.64,132.29" fill="none" stroke="#c01b22" stroke-width="3.1" stroke-linejoin="round"/>
<path d="M214.33,451.19 L215.94,450.07 L217.56,448.95 L219.18,447.85 L220.80,446.75 L222.42,445.66 L224.05,444.58 L225.68,443.51 L227.31,442.44 L228.94,441.38 L230.58,440.33 L232.22,439.29 L233.86,438.26 L235.50,437.23 L237.14,436.21 L238.79,435.19 L240.44,434.18 L242.09,433.18 L243.75,432.19 L245.41,431.20 L247.07,430.22 L248.73,429.24 L250.39,428.27 L252.06,427.31 L253.73,426.35 L255.40,425.40 L257.07,424.45 L258.74,423.51 L260.42,422.58 L262.10,421.65 L263.78,420.72 L265.47,419.80 L267.15,418.88 L268.84,417.97 L270.53,417.06 L272.22,416.16 L273.92,415.26 L275.61,414.37 L277.31,413.48 L279.01,412.59 L280.72,411.71 L282.42,410.83 L284.13,409.95 L285.84,409.08 L287.55,408.21 L289.26,407.34 L290.98,406.48 L292.69,405.62 L294.41,404.76 L296.13,403.91 L297.86,403.05 L299.58,402.20 L301.31,401.35 L303.04,400.51 L304.77,399.66 L306.50,398.82 L308.23,397.98 L309.97,397.14 L311.71,396.30 L313.45,395.46 L315.19,394.63 L316.93,393.79 L318.68,392.96 L320.43,392.13 L322.17,391.30 L323.93,390.46 L325.68,389.63 L327.43,388.81 L329.19,387.98 L330.95,387.16 L332.71,386.33 L334.47,385.51 L336.23,384.70 L338.00,383.88 L339.77,383.07 L341.54,382.26 L343.31,381.46 L345.08,380.66 L346.86,379.87 L348.64,379.08 L350.42,378.29 L352.20,377.51 L353.98,376.74 L355.77,375.97 L357.56,375.20 L359.35,374.45 L361.14,373.70 L362.94,372.95 L364.74,372.21 L366.54,371.48 L368.34,370.76 L370.14,370.05 L371.95,369.34 L373.76,368.64 L375.57,367.95 L377.39,367.27 L379.20,366.60 L381.02,365.93 L382.84,365.28 L384.67,364.64 L386.49,364.00 L388.32,363.38 L390.15,362.77 L391.99,362.16 L393.82,361.57 L395.66,360.99 L397.50,360.42 L399.35,359.86 L401.19,359.32 L403.04,358.78 L404.89,358.25 L406.75,357.73 L408.60,357.22 L410.46,356.72 L412.32,356.23 L414.18,355.75 L416.05,355.27 L417.91,354.81 L419.78,354.35 L421.65,353.90 L423.52,353.46 L425.39,353.03 L427.27,352.61 L429.15,352.19 L431.03,351.78 L432.91,351.37 L434.79,350.98 L436.67,350.59 L438.56,350.20 L440.45,349.83 L442.33,349.45 L444.22,349.09 L446.12,348.73 L448.01,348.37 L449.90,348.02 L451.80,347.68 L453.69,347.34 L455.59,347.01 L457.49,346.67 L459.39,346.35 L461.29,346.03 L463.19,345.71 L465.10,345.39 L467.00,345.08 L468.90,344.77 L470.81,344.47 L472.72,344.16 L474.62,343.86 L476.53,343.57 L478.44,343.27 L480.35,342.98 L482.26,342.69 L484.17,342.40 L486.08,342.11 L487.99,341.82 L489.90,341.54 L491.82,341.25 L493.73,340.97 L495.64,340.68 L497.56,340.40 L499.47,340.12 L501.38,339.83 L503.30,339.55 L505.21,339.27 L507.12,338.98 L509.04,338.70 L510.95,338.41 L512.87,338.12 L514.78,337.83 L516.69,337.54 L518.61,337.25 L520.52,336.95 L522.43,336.65 L524.34,336.35 L526.26,336.05 L528.17,335.75 L530.08,335.44 L531.99,335.13 L533.90,334.81 L535.81,334.49 L537.72,334.17 L539.63,333.84 L541.54,333.51 L543.44,333.18 L545.35,332.84 L547.26,332.49 L549.16,332.14 L551.06,331.79 L552.97,331.43 L554.87,331.06 L556.77,330.69 L558.67,330.31 L560.57,329.93 L562.47,329.54 L564.36,329.14 L566.26,328.74 L568.15,328.33 L570.04,327.91 L571.94,327.49 L573.82,327.06 L575.71,326.62 L577.60,326.18 L579.48,325.73 L581.37,325.28 L583.25,324.82 L585.13,324.35 L587.01,323.87 L588.89,323.39 L590.76,322.91 L592.63,322.41 L594.50,321.91 L596.37,321.40 L598.24,320.89 L600.10,320.36 L601.97,319.84 L603.83,319.30 L605.69,318.76 L607.54,318.21 L609.40,317.65 L611.25,317.09 L613.10,316.52 L614.94,315.94 L616.79,315.36 L618.63,314.77 L620.47,314.17 L622.30,313.57 L624.14,312.96 L625.97,312.34 L627.80,311.71 L629.62,311.08 L631.45,310.44 L633.27,309.79 L635.08,309.13 L636.90,308.47 L638.71,307.80 L640.52,307.13 L642.32,306.44 L644.12,305.75 L645.92,305.05 L647.71,304.35 L649.51,303.63 L651.29,302.91 L653.08,302.19 L654.86,301.45 L656.64,300.71 L658.41,299.96 L660.18,299.20 L661.95,298.43 L663.72,297.66 L665.48,296.88 L667.23,296.09 L668.98,295.29 L670.73,294.49 L672.48,293.68 L674.22,292.86 L675.95,292.03 L677.69,291.20 L679.41,290.36 L681.14,289.51 L682.86,288.65 L684.57,287.78 L686.29,286.91 L687.99,286.03 L689.70,285.14 L691.39,284.24 L693.09,283.34 L694.78,282.42 L696.46,281.50 L698.14,280.57 L699.82,279.64 L701.49,278.69 L703.16,277.74 L704.82,276.78 L706.48,275.81 L708.13,274.83 L709.77,273.84 L711.42,272.85 L713.05,271.85 L714.69,270.84 L716.31,269.82 L717.94,268.79 L719.56,267.76 L721.17,266.72 L722.78,265.67 L724.39,264.62 L725.99,263.56 L727.59,262.50 L729.19,261.42 L730.78,260.35 L732.37,259.26 L733.95,258.17 L735.53,257.08 L737.11,255.98 L738.69,254.88 L740.26,253.77 L741.84,252.65 L743.41,251.54 L744.97,250.42 L746.54,249.29 L748.10,248.16 L749.66,247.03 L751.22,245.89 L752.78,244.75 L754.33,243.61 L755.89,242.47 L757.44,241.32 L759.00,240.17 L760.55,239.02 L762.10,237.87 L763.65,236.71 L765.20,235.56 L766.75,234.40 L768.29,233.24 L769.84,232.08 L771.39,230.92 L772.94,229.76 L774.49,228.60 L776.04,227.44 L777.59,226.28 L779.14,225.12 L780.69,223.96 L782.24,222.80 L783.79,221.64 L785.35,220.48 L786.90,219.33 L788.46,218.17 L790.02,217.02 L791.58,215.87 L793.14,214.72 L794.70,213.57 L796.27,212.43 L797.84,211.29 L799.41,210.15 L800.98,209.01 L802.56,207.88 L804.13,206.75 L805.71,205.63 L807.30,204.51 L808.89,203.39 L810.48,202.28 L812.07,201.17 L813.67,200.07 L815.27,198.97 L816.87,197.88 L818.48,196.79 L820.09,195.71 L821.71,194.64 L823.33,193.57 L824.95,192.50 L826.58,191.44 L828.22,190.39 L829.86,189.35 L831.50,188.31 L833.15,187.28 L834.80,186.26 L836.46,185.24 L838.13,184.23 L839.80,183.23 L841.48,182.24 L843.16,181.26 L844.85,180.28 L846.54,179.32 L848.24,178.36 L849.95,177.41 L851.66,176.47 L853.38,175.54 L855.11,174.62 L856.85,173.71 L858.59,172.82 L860.33,171.93 L862.09,171.06 L863.85,170.21 L865.61,169.37 L867.39,168.56 L869.16,167.76 L870.95,166.98 L872.74,166.23 L874.54,165.49 L876.34,164.79 L878.15,164.11 L879.96,163.46 L881.78,162.83 L883.61,162.24 L885.44,161.68 L887.27,161.15 L889.11,160.66 L890.96,160.20 L892.81,159.78 L894.67,159.40 L896.53,159.06 L898.40,158.76 L900.27,158.50 L902.14,158.28 L904.02,158.11 L905.90,157.99 L907.79,157.91 L909.69,157.88 L911.58,157.90 L913.48,157.97 L915.38,158.09 L917.29,158.26 L919.19,158.47 L921.09,158.73 L922.99,159.03 L924.89,159.38 L926.79,159.77 L928.68,160.20 L930.56,160.67 L932.44,161.18 L934.31,161.74 L936.17,162.33 L938.02,162.96 L939.87,163.63 L941.70,164.33 L943.52,165.07 L945.33,165.84 L947.12,166.65 L948.90,167.48 L950.66,168.35 L952.40,169.26 L954.13,170.19 L955.84,171.15 L957.53,172.14 L959.19,173.15 L960.84,174.20 L962.46,175.27 L964.07,176.36 L965.64,177.48 L967.20,178.62 L968.73,179.79 L970.25,180.98 L971.74,182.19 L973.21,183.42 L974.67,184.68 L976.10,185.95 L977.51,187.24 L978.91,188.56 L980.29,189.89 L981.65,191.24 L982.99,192.61 L984.32,193.99 L985.63,195.39 L986.92,196.81 L988.20,198.24 L989.47,199.68 L990.72,201.14 L991.95,202.62 L993.18,204.10 L994.39,205.60 L995.59,207.11 L996.77,208.64 L997.95,210.17 L999.11,211.71 L1000.26,213.26 L1001.41,214.82 L1002.54,216.39 L1003.66,217.97 L1004.78,219.55 L1005.89,221.14 L1006.98,222.73 L1008.08,224.33 L1009.16,225.94 L1010.24,227.55 L1011.31,229.16 L1012.37,230.78 L1013.43,232.40 L1014.48,234.03 L1015.53,235.66 L1016.57,237.30 L1017.60,238.93 L1018.63,240.58 L1019.66,242.22 L1020.67,243.87 L1021.68,245.52 L1022.69,247.18 L1023.69,248.84 L1024.69,250.50 L1025.68,252.16 L1026.67,253.83 L1027.65,255.50 L1028.62,257.18 L1029.60,258.85 L1030.57,260.53 L1031.53,262.21 L1032.49,263.90 L1033.45,265.58 L1034.40,267.27 L1035.35,268.96 L1036.29,270.65 L1037.23,272.35 L1038.17,274.04 L1039.10,275.74 L1040.03,277.44 L1040.96,279.14 L1041.89,280.85 L1042.81,282.55 L1043.73,284.26 L1044.64,285.96 L1045.56,287.67 L1046.47,289.38 L1047.38,291.09 L1048.29,292.80 L1049.19,294.51 L1050.10,296.22 L1051.00,297.93 L1051.90,299.65 L1052.80,301.36 L1053.69,303.07 L1054.59,304.79 L1055.48,306.50 L1056.38,308.21 L1057.27,309.93 L1058.16,311.64 L1059.05,313.35 L1059.94,315.07 L1060.83,316.78 L1061.72,318.49 L1062.61,320.20 L1063.50,321.91 L1064.38,323.62 L1065.27,325.33 L1066.16,327.04 L1067.05,328.75 L1067.94,330.45 L1068.83,332.16 L1069.72,333.86 L1070.61,335.56 L1071.50,337.26 L1072.40,338.96 L1073.29,340.65 L1074.19,342.35 L1075.08,344.04 L1075.98,345.73 L1076.88,347.42 L1077.78,349.11 L1078.69,350.79 L1079.59,352.47 L1080.50,354.15 L1081.41,355.83 L1082.32,357.50 L1083.23,359.17 L1084.15,360.84 L1085.07,362.51 L1086.00,364.17 L1086.93,365.84 L1087.86,367.50 L1088.80,369.16 L1089.75,370.81 L1090.70,372.47 L1091.66,374.12 L1092.63,375.78 L1093.60,377.43 L1094.58,379.08 L1095.57,380.73 L1096.57,382.38 L1097.58,384.03 L1098.60,385.68 L1099.63,387.33 L1100.66,388.98 L1101.71,390.63 L1102.78,392.28 L1103.85,393.93 L1104.93,395.59 L1106.03,397.24 L1107.14,398.89 L1108.27,400.54 L1109.41,402.20 L1110.56,403.85 L1111.73,405.51 L1112.92,407.15 L1114.12,408.79 L1115.35,410.40 L1116.60,411.98 L1117.88,413.53 L1119.18,415.04 L1120.51,416.51 L1121.88,417.91 L1123.27,419.26 L1124.71,420.54 L1126.18,421.75 L1127.68,422.87 L1129.23,423.91 L1130.83,424.85 L1132.47,425.69 L1134.15,426.42 L1135.88,427.04 L1137.66,427.54 L1139.45,427.91 L1141.27,428.16 L1143.08,428.27 L1144.89,428.25 L1146.67,428.09 L1148.42,427.78 L1150.13,427.31 L1151.78,426.70 L1153.35,425.93 L1154.86,425.00 L1156.29,423.93 L1157.67,422.73 L1158.97,421.41 L1160.22,419.98 L1161.42,418.46 L1162.56,416.86 L1163.65,415.18 L1164.70,413.44 L1165.70,411.65 L1166.67,409.82 L1167.61,407.97 L1168.51,406.10 L1169.38,404.23 L1170.23,402.36 L1171.05,400.50 L1171.85,398.64 L1172.63,396.79 L1173.39,394.94 L1174.12,393.10 L1174.83,391.26 L1175.53,389.42 L1176.20,387.58 L1176.86,385.75 L1177.50,383.92 L1178.12,382.09 L1178.73,380.27 L1179.32,378.44 L1179.90,376.61 L1180.46,374.79 L1181.01,372.96 L1181.55,371.14 L1182.07,369.31 L1182.59,367.49 L1183.10,365.66 L1183.59,363.83 L1184.08,362.00 L1184.57,360.16 L1185.04,358.32 L1185.51,356.48 L1185.97,354.64 L1186.43,352.79 L1186.89,350.94 L1187.34,349.09 L1187.78,347.23 L1188.23,345.37 L1188.66,343.50 L1189.10,341.63 L1189.52,339.76 L1189.95,337.89 L1190.37,336.01 L1190.79,334.13 L1191.20,332.25 L1191.61,330.36 L1192.01,328.48 L1192.41,326.59 L1192.81,324.69 L1193.20,322.80 L1193.59,320.90 L1193.98,319.00 L1194.36,317.10 L1194.73,315.20 L1195.11,313.30 L1195.48,311.39 L1195.84,309.49 L1196.21,307.58 L1196.57,305.67 L1196.92,303.76 L1197.28,301.85 L1197.63,299.93 L1197.97,298.02 L1198.31,296.11 L1198.65,294.19 L1198.99,292.28 L1199.32,290.36 L1199.65,288.44 L1199.98,286.53 L1200.30,284.61 L1200.62,282.70 L1200.94,280.78 L1201.25,278.86 L1201.56,276.95 L1201.87,275.03 L1202.18,273.12 L1202.48,271.20 L1202.78,269.29 L1203.07,267.38 L1203.37,265.46 L1203.66,263.55 L1203.95,261.64 L1204.23,259.73 L1204.52,257.83 L1204.80,255.92 L1205.08,254.02 L1205.35,252.11 L1205.63,250.21 L1205.90,248.31 L1206.17,246.42 L1206.43,244.52 L1206.70,242.63 L1206.96,240.74 L1207.22,238.85 L1207.48,236.96 L1207.73,235.08" fill="none" stroke="#aaaaaa" stroke-width="3.1" stroke-linejoin="round"/>
<rect x="204.2" y="28.7" width="268.3" height="152.6" rx="5" ry="5" fill="#fff" stroke="#d0d0d0" stroke-width="2.2"/>
<line x1="215" y1="46.5" x2="267" y2="46.5" stroke="#000000" stroke-width="7"/>
<text transform="translate(274,57.7) scale(1,0.96)" class="l">normal</text>
<line x1="215" y1="83.4" x2="267" y2="83.4" stroke="#ff7f0e" stroke-width="7"/>
<text transform="translate(274,94.0) scale(1,0.96)" class="l">reduced</text>
<line x1="215" y1="120.3" x2="267" y2="120.3" stroke="#d32626" stroke-width="7"/>
<text transform="translate(274,130.3) scale(1,0.96)" class="l">overfeeding</text>
<line x1="215" y1="157.2" x2="267" y2="157.2" stroke="#b0b0b0" stroke-width="7"/>
<text transform="translate(274,166.6) scale(1,0.96)" class="l">no feeding</text>
</svg></body></html>
